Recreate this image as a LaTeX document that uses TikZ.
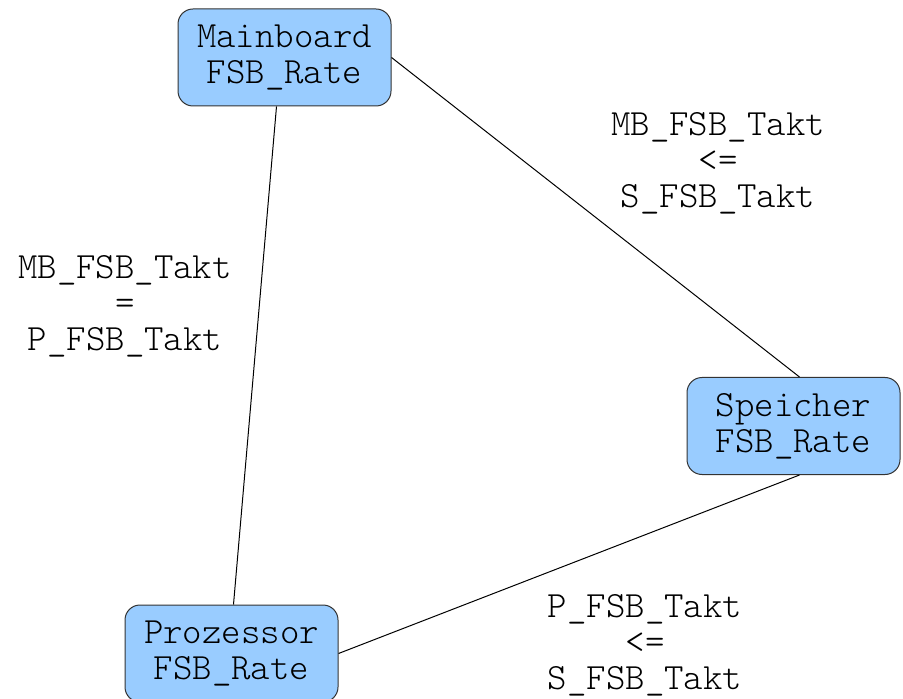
\documentclass[tikz,border=0pt]{standalone}
\usepackage{fontspec}
\setmonofont{Latin Modern Mono Light}
\definecolor{boxblue}{HTML}{99CCFF}
\definecolor{boxline}{HTML}{333333}

\begin{document}
\begin{tikzpicture}[
    x=0.5pt, y=-0.5pt,
    ratebox/.style={draw=boxline, line width=0.5pt, fill=boxblue, rounded corners=7.5pt,
                    minimum width=106.5pt, minimum height=48.5pt, align=center,
                    font=\fontsize{18.5}{18}\selectfont\ttfamily},
    constraint/.style={align=center, font=\fontsize{18.5}{18}\selectfont\ttfamily},
    link/.style={line width=0.5pt, black}
  ]
    \useasboundingbox (0,0) rectangle (903,699);

    \node[ratebox] (mainboard) at (284.5,57.5) {Mainboard\\FSB\_Rate};
    \node[ratebox] (speicher)  at (793.5,426)  {Speicher\\FSB\_Rate};
    \node[ratebox] (prozessor) at (231.5,653.5) {Prozessor\\FSB\_Rate};

    \node[constraint] (mbp) at (125,306) {MB\_FSB\_Takt\\=\\P\_FSB\_Takt};
    \node[constraint] (mbs) at (718,163) {MB\_FSB\_Takt\\<=\\S\_FSB\_Takt};
    \node[constraint] (ps)  at (645,645) {P\_FSB\_Takt\\<=\\S\_FSB\_Takt};

    \draw[link] ([xshift=-4pt]mainboard.south) -- ([xshift=1pt]prozessor.north);
    \draw[link] (mainboard.east) -- ([xshift=3pt]speicher.north);
    \draw[link] ([xshift=3pt]speicher.south) -- (prozessor.east);
\end{tikzpicture}
\end{document}
